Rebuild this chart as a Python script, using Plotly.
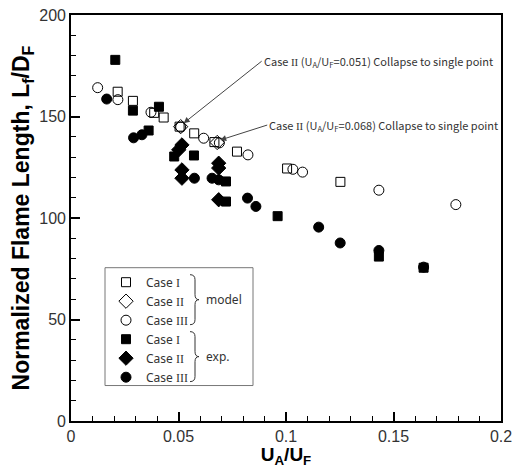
import plotly.graph_objects as go

# ---- data ----
model1_x = [0.0217, 0.0288, 0.0387, 0.0431, 0.0505, 0.0573, 0.0667, 0.0772, 0.1005, 0.1253]
model1_y = [162.2, 157.7, 151.8, 149.5, 145.0, 141.7, 137.4, 132.7, 124.4, 117.8]

model2_x = [0.051, 0.068]
model2_y = [145.0, 137.2]

model3_x = [0.0124, 0.0218, 0.0372, 0.051, 0.0617, 0.069, 0.0823, 0.1032, 0.1077, 0.1432, 0.179]
model3_y = [164.2, 158.3, 152.1, 144.8, 139.3, 137.0, 131.1, 124.0, 122.6, 113.7, 106.6]

exp1_x = [0.0206, 0.0288, 0.0409, 0.0361, 0.048, 0.0572, 0.0721, 0.0721, 0.0961, 0.1432, 0.164]
exp1_y = [177.9, 152.9, 154.8, 143.1, 130.3, 130.8, 118.0, 108.1, 100.9, 81.0, 75.5]

exp2_x = [0.0501, 0.0516, 0.0516, 0.0516, 0.0687, 0.0687, 0.0687]
exp2_y = [133.6, 136.0, 123.7, 119.6, 127.0, 124.6, 109.0]

exp3_x = [0.0166, 0.0291, 0.033, 0.0574, 0.0656, 0.0687, 0.0821, 0.086, 0.1152, 0.1252, 0.1432, 0.164]
exp3_y = [158.6, 139.5, 141.0, 119.6, 119.6, 118.8, 109.8, 105.7, 95.5, 87.7, 84.0, 75.8]

SERIF = "<span style='font-family:Liberation Serif'>{}</span>"
legend_names = ["Case " + SERIF.format(r) for r in ["I", "II", "III", "I", "II", "III"]]

x_ticks = [0, 0.05, 0.1, 0.15, 0.2]
x_tick_text = ["0", "0.05", "0.1", "0.15", "0.2"]
y_ticks = [0, 50, 100, 150, 200]

ann1_point = (0.0524, 146.7)
ann2_point = (0.0694, 138.4)
ann1_text = "Case " + SERIF.format("II") + " (U<sub>A</sub>/U<sub>F</sub>=0.051) Collapse to single point"
ann2_text = "Case " + SERIF.format("II") + " (U<sub>A</sub>/U<sub>F</sub>=0.068) Collapse to single point"

# ---- figure ----
fig = go.Figure()
series = [
    (model1_x, model1_y, "square-open", 9),
    (model2_x, model2_y, "diamond-open", 11),
    (model3_x, model3_y, "circle-open", 10),
    (exp1_x, exp1_y, "square", 9),
    (exp2_x, exp2_y, "diamond", 11),
    (exp3_x, exp3_y, "circle", 10),
]
for (xs, ys, sym, sz), name in zip(series, legend_names):
    fig.add_trace(go.Scatter(
        x=xs, y=ys, mode="markers", name=name,
        marker=dict(symbol=sym, size=sz, color="black",
                    line=dict(color="black", width=1)),
    ))

axis_common = dict(
    showline=True, linecolor="black", linewidth=1.6, mirror=True,
    ticks="inside", ticklen=9, tickwidth=1.5, tickcolor="black",
    showgrid=False, zeroline=False, automargin=False,
    tickfont=dict(family="Liberation Sans", size=16, color="#333"),
)

fig.update_xaxes(
    range=[0, 0.2], tickvals=x_ticks, ticktext=x_tick_text,
    minor=dict(dtick=0.01, ticks="inside", ticklen=5, tickwidth=1.2, tickcolor="black"),
    title=dict(text="<b>U<sub>A</sub>/U<sub>F</sub></b>",
               font=dict(family="Liberation Sans", size=19, color="black"), standoff=11),
    **axis_common,
)
fig.update_yaxes(
    range=[0, 200], tickvals=y_ticks,
    minor=dict(dtick=10, ticks="inside", ticklen=5, tickwidth=1.2, tickcolor="black"),
    title=dict(text="<b>Normalized Flame Length, L<sub>f</sub>/D<sub>F</sub></b>",
               font=dict(family="Liberation Sans", size=23, color="black"), standoff=3),
    **axis_common,
)

ann_font = dict(family="Noto Sans CJK KR", size=11, color="#333")
fig.add_annotation(x=ann1_point[0], y=ann1_point[1], text=ann1_text,
                   showarrow=True, ax=78, ay=-62, xanchor="left", yanchor="middle",
                   arrowhead=2, arrowsize=1.2, arrowwidth=1, arrowcolor="#444",
                   font=ann_font)
fig.add_annotation(x=ann2_point[0], y=ann2_point[1], text=ann2_text,
                   showarrow=True, ax=47, ay=-15, xanchor="left", yanchor="middle",
                   arrowhead=2, arrowsize=1.2, arrowwidth=1, arrowcolor="#444",
                   font=ann_font)

# legend box and braces (decoration)
def px_x(p):
    return (p - 71) / 430

def px_y(p):
    return (421.5 - p) / 406.5

fig.add_shape(type="rect", xref="paper", yref="paper",
              x0=px_x(105), x1=px_x(253), y0=px_y(386), y1=px_y(268),
              line=dict(color="#777", width=1), fillcolor="white", layer="below")

def brace(h):
    m = h / 2
    return (f"M 0 0 Q 5 0 5 -5 L 5 {-(m-5)} Q 5 {-m} 9 {-m} Q 5 {-m} 5 {-(m+5)} "
            f"L 5 {-(h-5)} Q 5 {-h} 0 {-h}")

for (yt, yb, label) in [(275, 325, "model"), (332, 382, "exp.")]:
    fig.add_shape(type="path", xref="paper", yref="paper",
                  xsizemode="pixel", ysizemode="pixel",
                  xanchor=px_x(190), yanchor=px_y(yt),
                  path=brace(yb - yt),
                  line=dict(color="#333", width=1))
    fig.add_annotation(xref="paper", yref="paper",
                       x=px_x(204), y=px_y((yt + yb) / 2),
                       text=label, showarrow=False, xanchor="left", yanchor="middle",
                       font=dict(family="Noto Sans", size=12, color="#333"))

fig.update_layout(
    width=517, height=468,
    margin=dict(l=71, r=16, t=15, b=47),
    paper_bgcolor="white", plot_bgcolor="white",
    showlegend=True,
    legend=dict(x=px_x(106), y=px_y(268), xanchor="left", yanchor="top",
                bgcolor="rgba(0,0,0,0)", borderwidth=0,
                font=dict(family="Noto Sans", size=12, color="#333"),
                itemwidth=30, tracegroupgap=0),
)

fig.write_html("out.html")
